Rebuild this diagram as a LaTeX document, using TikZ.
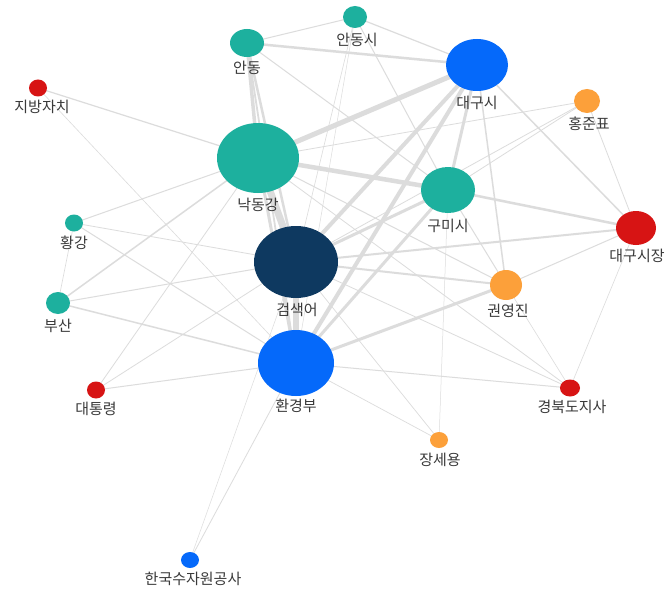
\documentclass[tikz,border=0pt]{standalone}
\usepackage{fontspec}
\newfontfamily\kr{Noto Sans CJK KR}
\usetikzlibrary{shapes.geometric}
\pgfdeclarelayer{bg}
\pgfsetlayers{bg,main}
\definecolor{teal}{HTML}{1DB09E}
\definecolor{navy}{HTML}{0E3960}
\definecolor{blu}{HTML}{0569FA}
\definecolor{rd}{HTML}{D71414}
\definecolor{org}{HTML}{FCA03A}
\definecolor{edge}{HTML}{DCDCDC}
\definecolor{lbl}{HTML}{3A3A3A}
\tikzset{
  vert/.style={ellipse, inner sep=0pt, draw=none},
  lab/.style={font=\kr\fontsize{15}{16}\selectfont, text=lbl, inner sep=0pt},
  con/.style={draw=edge, line width=#1},
  con/.default=1pt
}
\begin{document}
\begin{tikzpicture}[x=1pt,y=-1pt]
\useasboundingbox (0,0) rectangle (668,591);
% vertices
\node[vert, fill=teal, minimum width=24, minimum height=22] (ads) at (355,17) {};
\node[vert, fill=teal, minimum width=34, minimum height=28] (an) at (247,43) {};
\node[vert, fill=blu, minimum width=62, minimum height=52] (dgs) at (477,65) {};
\node[vert, fill=rd, minimum width=18, minimum height=17] (jb) at (38,88) {};
\node[vert, fill=org, minimum width=26, minimum height=24] (hj) at (587,101) {};
\node[vert, fill=teal, minimum width=82, minimum height=70] (nd) at (258,158) {};
\node[vert, fill=teal, minimum width=54, minimum height=46] (gm) at (448,190) {};
\node[vert, fill=teal, minimum width=18, minimum height=17] (hg) at (74,223) {};
\node[vert, fill=rd, minimum width=40, minimum height=34] (dsj) at (636,228) {};
\node[vert, fill=navy, minimum width=84, minimum height=72] (ks) at (296,262) {};
\node[vert, fill=org, minimum width=32, minimum height=30] (ky) at (506,285) {};
\node[vert, fill=teal, minimum width=24, minimum height=22] (bs) at (58,303) {};
\node[vert, fill=blu, minimum width=76, minimum height=66] (hk) at (296,363) {};
\node[vert, fill=rd, minimum width=18, minimum height=17] (dt) at (96,390) {};
\node[vert, fill=rd, minimum width=20, minimum height=17] (gb) at (570,388) {};
\node[vert, fill=org, minimum width=18, minimum height=16] (js) at (439,440) {};
\node[vert, fill=blu, minimum width=18, minimum height=16] (kw) at (190,560) {};
% edges
\begin{pgfonlayer}{bg}
\fill[white] (0,0) rectangle (668,591);
\draw[con=7] (nd.center) -- (ks.center);
\draw[con=6] (ks.center) -- (hk.center);
\draw[con=3] (nd.center) -- (hk.center);
\draw[con=3.5] (an.center) -- (nd.center);
\draw[con=2.5] (an.center) -- (ks.center);
\draw[con=1.8] (an.center) -- (hk.center);
\draw[con=5] (nd.center) -- (dgs.center);
\draw[con=4.5] (nd.center) -- (gm.center);
\draw[con=4] (ks.center) -- (dgs.center);
\draw[con=4] (hk.center) -- (dgs.center);
\draw[con=3] (ks.center) -- (gm.center);
\draw[con=3] (hk.center) -- (gm.center);
\draw[con=3] (dgs.center) -- (gm.center);
\draw[con=2.5] (gm.center) -- (dsj.center);
\draw[con=3] (hk.center) -- (ky.center);
\draw[con=2] (ks.center) -- (ky.center);
\draw[con=2] (ks.center) -- (dsj.center);
\draw[con=1.5] (dgs.center) -- (dsj.center);
\draw[con=1.5] (dgs.center) -- (ky.center);
\draw[con=2.5] (an.center) -- (dgs.center);
\draw[con=1.2] (ads.center) -- (dgs.center);
\draw[con=1] (an.center) -- (ads.center);
\draw[con=1] (ads.center) -- (gm.center);
\draw[con=0.6] (ads.center) -- (ks.center);
\draw[con=0.5] (ads.center) -- (hk.center);
\draw[con=1] (an.center) -- (gm.center);
\draw[con=1.2] (jb.center) -- (nd.center);
\draw[con=0.6] (jb.center) -- (hk.center);
\draw[con=1] (hg.center) -- (nd.center);
\draw[con=0.8] (hg.center) -- (ks.center);
\draw[con=1] (hg.center) -- (hk.center);
\draw[con=0.6] (hg.center) -- (bs.center);
\draw[con=1.5] (bs.center) -- (nd.center);
\draw[con=1] (bs.center) -- (ks.center);
\draw[con=1.5] (bs.center) -- (hk.center);
\draw[con=0.8] (dt.center) -- (nd.center);
\draw[con=0.8] (dt.center) -- (ks.center);
\draw[con=1] (dt.center) -- (hk.center);
\draw[con=0.8] (hk.center) -- (kw.center);
\draw[con=0.5] (ks.center) -- (kw.center);
\draw[con=1] (hk.center) -- (gb.center);
\draw[con=0.7] (hk.center) -- (js.center);
\draw[con=0.7] (ks.center) -- (js.center);
\draw[con=0.8] (ks.center) -- (gb.center);
\draw[con=0.6] (ky.center) -- (gb.center);
\draw[con=0.6] (dsj.center) -- (gb.center);
\draw[con=1] (dsj.center) -- (ky.center);
\draw[con=0.8] (hj.center) -- (dsj.center);
\draw[con=0.8] (hj.center) -- (gm.center);
\draw[con=0.8] (hj.center) -- (nd.center);
\draw[con=0.8] (hj.center) -- (ks.center);
\draw[con=0.5] (js.center) -- (gm.center);
\draw[con=1] (nd.center) -- (ky.center);
\draw[con=0.8] (nd.center) -- (gb.center);
\draw[con=1] (gm.center) -- (ky.center);
\end{pgfonlayer}
% labels
\node[lab] (l-ads) at (357,40) {안동시};
\node[lab] (l-an) at (247,68) {안동};
\node[lab] (l-dgs) at (477,103) {대구시};
\node[lab] (l-jb) at (42,107) {지방자치};
\node[lab] (l-hj) at (589,124) {홍준표};
\node[lab] (l-nd) at (258,205) {낙동강};
\node[lab] (l-gm) at (448,226) {구미시};
\node[lab] (l-hg) at (74,243) {황강};
\node[lab] (l-dsj) at (637,256) {대구시장};
\node[lab] (l-ks) at (297,310) {검색어};
\node[lab] (l-ky) at (508,311) {권영진};
\node[lab] (l-bs) at (58,326) {부산};
\node[lab] (l-hk) at (296,406) {환경부};
\node[lab] (l-dt) at (96,409) {대통령};
\node[lab] (l-gb) at (572,407) {경북도지사};
\node[lab] (l-js) at (440,460) {장세용};
\node[lab] (l-kw) at (193,579) {한국수자원공사};
\end{tikzpicture}
\end{document}
